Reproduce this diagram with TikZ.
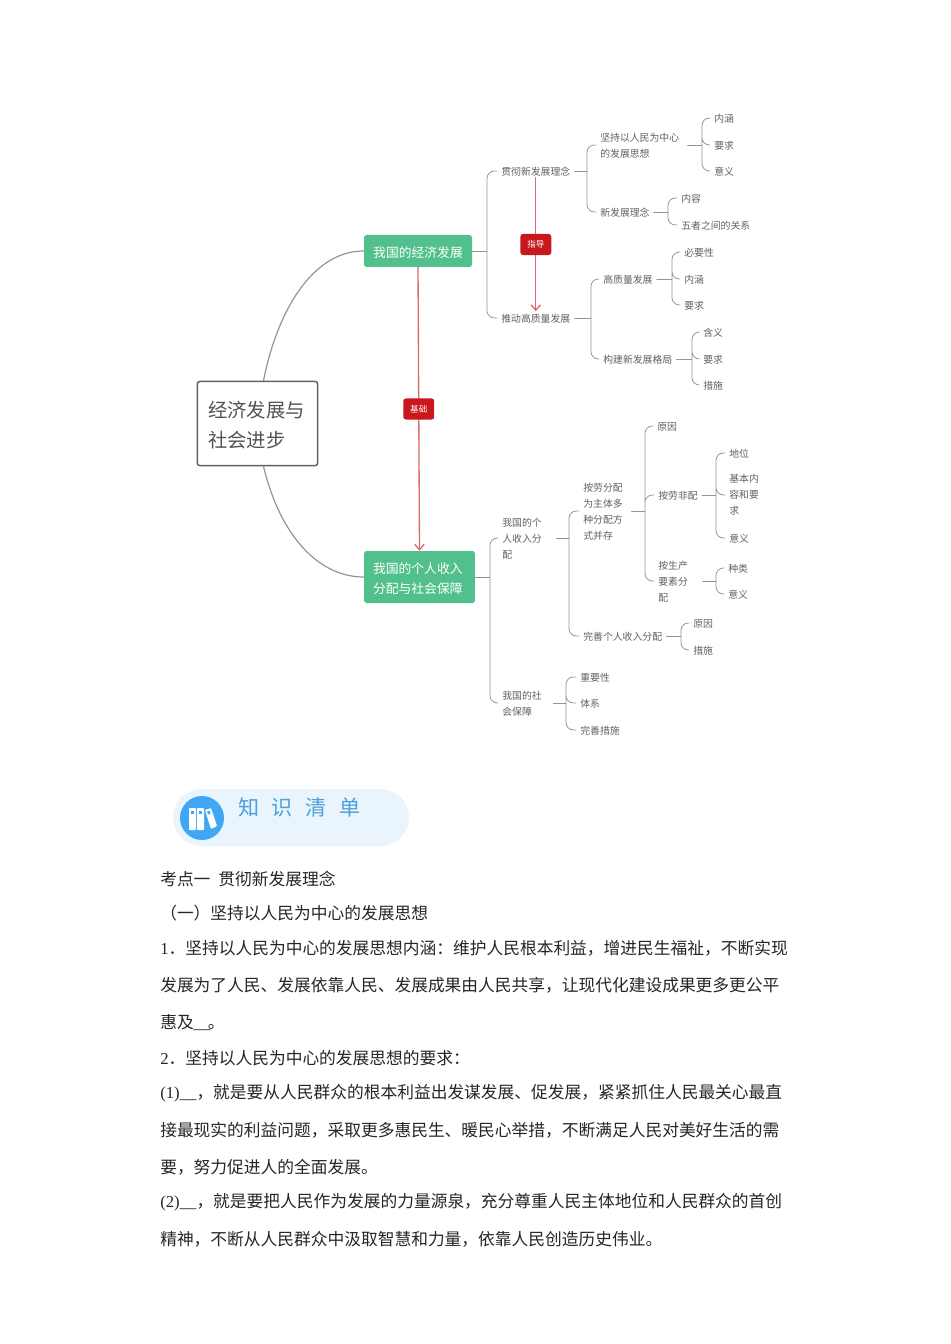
\documentclass[tikz,border=0pt]{standalone}
\usepackage{fontspec}
\setmainfont{Noto Sans CJK SC}
\newfontfamily\latinfont{Liberation Serif}
\usetikzlibrary{arrows.meta}

\begin{document}
\begin{tikzpicture}
		[x=.75pt,y=-.75pt,line cap=round,
		%Styles
		item/.style={anchor=west,align=left,inner xsep=3pt,inner ysep=1pt,text=textcolor,font=\fontsize{7.4pt}{12pt}\selectfont,execute at begin node={\rule{0pt}{7.2pt}}},
		topic/.style={rectangle,rounded corners=2pt,fill=topiccolor,text=white,align=left,inner sep=0pt,font=\fontsize{9.6pt}{15pt}\selectfont,execute at begin node={\rule{0pt}{10.2pt}}},
		tag/.style={rectangle,rounded corners=2pt,fill=tagcolor,text=white,inner sep=0pt,minimum width=23.2pt,minimum height=15.8pt,font=\fontsize{6.4pt}{8pt}\selectfont},
		link/.style={draw=linecolor,line width=.6pt},
		branch/.style={link,rounded corners=5.5pt},
		relation/.style={draw=relationcolor,line width=1pt,-{Straight Barb[length=4pt,width=7pt]}},
		body/.style={anchor=west,inner sep=0pt,yshift=-.3pt,text=black!85,font=\fontsize{12.55pt}{15pt}\selectfont}
		]
		
		%Colors
		\colorlet{textcolor}{black!62}
		\colorlet{linecolor}{black!42}
		\definecolor{topiccolor}{HTML}{52C08C}
		\definecolor{tagcolor}{HTML}{C8181E}
		\definecolor{relationcolor}{HTML}{DC6A6E}
		\definecolor{bannercolor}{HTML}{E9F4FD}
		\definecolor{iconcolor}{HTML}{3FA7F4}
		\definecolor{headcolor}{HTML}{4BA0DE}
		
		\useasboundingbox[fill=white] (0,0) rectangle (950,1344);
		
		%The centre and the two topics
		\node[draw=black!62,line width=1.1pt,rounded corners=2pt,align=left,inner sep=0pt,text width=74.25pt,minimum width=90.3pt,minimum height=63.2pt,text=black!68,font=\fontsize{14.5pt}{22.5pt}\selectfont,execute at begin node={\rule{0pt}{15.2pt}}] (root) at (257.5,423.5) {经济发展与\\社会进步};
		\node[topic,minimum width=81pt,minimum height=24pt] (econ) at (418,251) {我国的经济发展};
		\node[topic,text width=69.75pt,minimum width=83.2pt,minimum height=39pt] (income) at (419.5,577) {我国的个人收入\\分配与社会保障};
		
		\draw[link,line width=.9pt] (root.82) .. controls (277,312) and (312,251) .. (econ.west);
		\draw[link,line width=.9pt] (root.-82) .. controls (280,535) and (318,577) .. (income.west);
		
		%The upper half
		\node[item] (concept) at (497,171) {贯彻新发展理念};
		\node[item] (quality) at (497,318) {推动高质量发展};
		\node[item,text width=62.25pt] (people) at (596,145) {坚持以人民为中心\\的发展思想};
		\node[item] (idea) at (596,212) {新发展理念};
		\node[item] (peoplea) at (710,118) {内涵};
		\node[item] (peopleb) at (710,145) {要求};
		\node[item] (peoplec) at (710,171) {意义};
		\node[item] (ideaa) at (677,198) {内容};
		\node[item] (ideab) at (677,225) {五者之间的关系};
		\node[item] (high) at (599,279) {高质量发展};
		\node[item] (pattern) at (599,359) {构建新发展格局};
		\node[item] (higha) at (680,252) {必要性};
		\node[item] (highb) at (680,279) {内涵};
		\node[item] (highc) at (680,305) {要求};
		\node[item] (patterna) at (699,332) {含义};
		\node[item] (patternb) at (699,359) {要求};
		\node[item] (patternc) at (699,385) {措施};
		
		\coordinate (econspine) at (487,251);
		\coordinate (conceptspine) at (587,171);
		\coordinate (peoplespine) at (702,145);
		\coordinate (ideaspine) at (668,212);
		\coordinate (qualityspine) at (591,318);
		\coordinate (highspine) at (672,279);
		\coordinate (patternspine) at (692,359);
		
		\draw[link] (econ.east) -- (econspine);
		\draw[branch] (econspine) |- (concept.west) (econspine) |- (quality.west);
		\draw[link] (concept.east) -- (conceptspine);
		\draw[branch] (conceptspine) |- (people.west) (conceptspine) |- (idea.west);
		\draw[link] (people.east) -- (peoplespine);
		\draw[branch] (peoplespine) |- (peoplea.west) (peoplespine) |- (peopleb.west) (peoplespine) |- (peoplec.west);
		\draw[link] (idea.east) -- (ideaspine);
		\draw[branch] (ideaspine) |- (ideaa.west) (ideaspine) |- (ideab.west);
		\draw[link] (quality.east) -- (qualityspine);
		\draw[branch] (qualityspine) |- (high.west) (qualityspine) |- (pattern.west);
		\draw[link] (high.east) -- (highspine);
		\draw[branch] (highspine) |- (higha.west) (highspine) |- (highb.west) (highspine) |- (highc.west);
		\draw[link] (pattern.east) -- (patternspine);
		\draw[branch] (patternspine) |- (patterna.west) (patternspine) |- (patternb.west) (patternspine) |- (patternc.west);
		
		%The lower half
		\node[item,text width=37.5pt] (personal) at (498,538) {我国的个\\人收入分\\配};
		\node[item,text width=35.25pt] (security) at (498,703) {我国的社\\会保障};
		\node[item,text width=33pt] (system) at (579,511) {按劳分配\\为主体多\\种分配方\\式并存};
		\node[item] (perfect) at (579,636) {完善个人收入分配};
		\node[item] (cause) at (653,426) {原因};
		\node[item] (labour) at (654,495) {按劳非配};
		\node[item,text width=30pt] (factor) at (654,581) {按生产\\要素分\\配};
		\node[item] (laboura) at (725,453) {地位};
		\node[item] (labourb) at (725,495) {基本内\\容和要\\求};
		\node[item] (labourc) at (725,538) {意义};
		\node[item] (factora) at (724,568) {种类};
		\node[item] (factorb) at (724,594) {意义};
		\node[item] (perfecta) at (689,623) {原因};
		\node[item] (perfectb) at (689,650) {措施};
		\node[item] (securitya) at (576,677) {重要性};
		\node[item] (securityb) at (576,703) {体系};
		\node[item] (securityc) at (576,730) {完善措施};
		
		\coordinate (incomespine) at (490,577);
		\coordinate (personalspine) at (569,538);
		\coordinate (systemspine) at (645,511);
		\coordinate (labourspine) at (716,495);
		\coordinate (factorspine) at (716,581);
		\coordinate (perfectspine) at (681,636);
		\coordinate (securityspine) at (566,703);
		
		\draw[link] (income.east) -- (incomespine);
		\draw[branch] (incomespine) |- (personal.west) (incomespine) |- (security.west);
		\draw[link] (personal.east) -- (personalspine);
		\draw[branch] (personalspine) |- (system.west) (personalspine) |- (perfect.west);
		\draw[link] (system.east) -- (systemspine);
		\draw[branch] (systemspine) |- (cause.west) (systemspine) |- (labour.west) (systemspine) |- (factor.west);
		\draw[link] (labour.east) -- (labourspine);
		\draw[branch] (labourspine) |- (laboura.west) (labourspine) |- (labourb.west) (labourspine) |- (labourc.west);
		\draw[link] (factor.east) -- (factorspine);
		\draw[branch] (factorspine) |- (factora.west) (factorspine) |- (factorb.west);
		\draw[link] (perfect.east) -- (perfectspine);
		\draw[branch] (perfectspine) |- (perfecta.west) (perfectspine) |- (perfectb.west);
		\draw[link] (security.east) -- (securityspine);
		\draw[branch] (securityspine) |- (securitya.west) (securityspine) |- (securityb.west) (securityspine) |- (securityc.west);
		
		%The red relations
		\draw[relation] (econ.south) -- node[tag] (basis) {基础} (income.north);
		\draw[relation] (concept.south) -- node[tag] (guide) {指导} (quality.north);
		
		%The banner
		\fill[bannercolor,rounded corners=21.3pt] (173,789) rectangle (409,846);
		\fill[iconcolor] (202,818) circle[radius=16.5pt];
		\fill[white,rounded corners=.6pt] (189,808) rectangle (196,830);
		\fill[white,rounded corners=.6pt] (197,808) rectangle (204,830);
		\fill[white,rounded corners=.6pt] (205,810) -- (211,808) -- (217,826) -- (211,829) -- cycle;
		\fill[iconcolor] (191,811) rectangle (194,814);
		\fill[iconcolor] (199,811) rectangle (202,814);
		\fill[iconcolor] (207,811.5) -- (209.5,810.5) -- (210.5,813.5) -- (208,814.5) -- cycle;
		\node[anchor=west,inner sep=0pt,text=headcolor,font=\fontsize{15.8pt}{18pt}\selectfont] (head) at (238,807) {知\hspace{9.4pt}识\hspace{9.4pt}清\hspace{9.4pt}单};
		
		%The text below
		\node[body] (linea) at (160,879) {考点一\hspace{6pt}贯彻新发展理念};
		\node[body] (lineb) at (160,913) {（一）坚持以人民为中心的发展思想};
		\node[body] (linec) at (160,948) {{\latinfont 1}．坚持以人民为中心的发展思想内涵：维护人民根本利益，增进民生福祉，不断实现};
		\node[body] (lined) at (160,985) {发展为了人民、发展依靠人民、发展成果由人民共享，让现代化建设成果更多更公平};
		\node[body] (linee) at (160,1022) {惠及{\latinfont\_\_\hspace{-2pt}}。};
		\node[body] (linef) at (160,1058) {{\latinfont 2}．坚持以人民为中心的发展思想的要求：};
		\node[body] (lineg) at (160,1093) {{\latinfont (1)\_\_}，就是要从人民群众的根本利益出发谋发展、促发展，紧紧抓住人民最关心最直};
		\node[body] (lineh) at (160,1130) {接最现实的利益问题，采取更多惠民生、暖民心举措，不断满足人民对美好生活的需};
		\node[body] (linei) at (160,1167) {要，努力促进人的全面发展。};
		\node[body] (linej) at (160,1202) {{\latinfont (2)\_\_}，就是要把人民作为发展的力量源泉，充分尊重人民主体地位和人民群众的首创};
		\node[body] (linek) at (160,1239) {精神，不断从人民群众中汲取智慧和力量，依靠人民创造历史伟业。};
	\end{tikzpicture}
\end{document}
